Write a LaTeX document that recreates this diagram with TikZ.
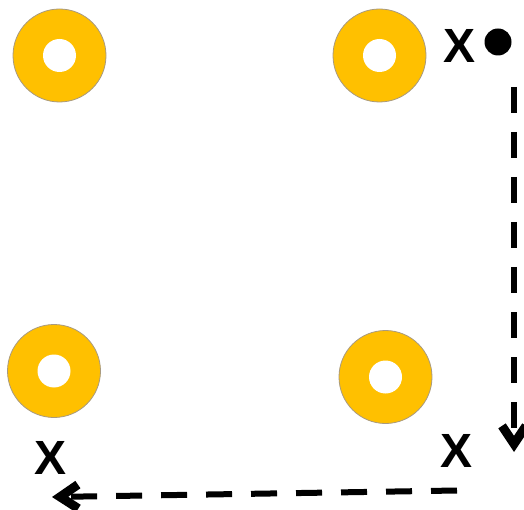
\documentclass[tikz,border=0pt]{standalone}
\usepackage{fontspec}
\setmainfont{Liberation Sans}
\usetikzlibrary{arrows.meta}
\definecolor{padyellow}{HTML}{FFC000}
\definecolor{padrim}{HTML}{A89A80}
\begin{document}
\begin{tikzpicture}[x=1pt, y=-1pt,
    pad/.style={circle, draw=padrim, line width=0.8pt, fill=padyellow, minimum size=93pt, inner sep=0pt,
      path picture={\fill[white] (path picture bounding box.center) circle (16.5pt);}},
    mark label/.style={inner sep=0pt, font=\fontsize{48}{48}\selectfont\bfseries},
    move/.style={line width=6pt, dash pattern=on 26pt off 19pt, -{Straight Barb[length=18pt, width=24pt, line width=0pt 1.5]}}]
        \useasboundingbox (0,0) rectangle (524,510);

          \node[pad] (p1) at (59.5,55.5) {};
          \node[pad] (p2) at (379.5,55.5) {};
          \node[pad] (p3) at (54,371) {};
          \node[pad] (p4) at (385.5,377) {};

          \node[mark label] (x2) at (460,46) {X};
          \node[mark label] (x3) at (51,458) {X};
          \node[mark label] (x4) at (457,451) {X};
          \node[circle, fill=black, minimum size=27pt, inner sep=0pt] (tool) at (498,42) {};

          \coordinate (a) at (514,87);
          \coordinate (b) at (514,452);
          \coordinate (c) at (457,490.5);
          \coordinate (d) at (52,497);

          \draw[move] (a) -- (b);
          \draw[move] (c) -- (d);

\end{tikzpicture}
\end{document}
